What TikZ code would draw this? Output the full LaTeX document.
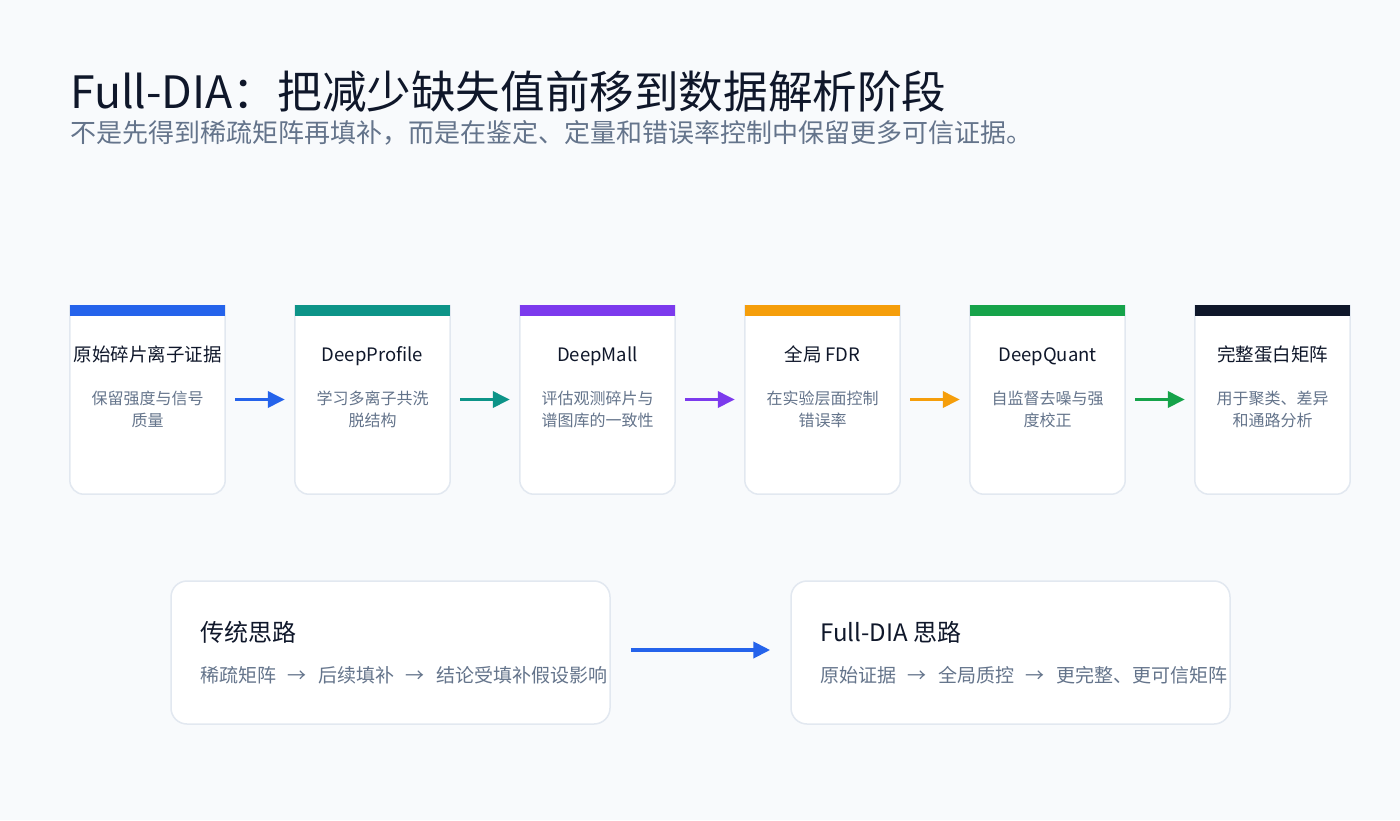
\documentclass[tikz,border=0pt]{standalone}
\usepackage{fontspec}
\setmainfont{Noto Sans CJK SC}
\usetikzlibrary{arrows.meta}
\definecolor{bg}{HTML}{F8FAFC}
\definecolor{ink}{HTML}{0F172A}
\definecolor{muted}{HTML}{64748B}
\definecolor{border}{HTML}{E2E8F0}
\definecolor{cblue}{HTML}{2563EB}
\definecolor{cteal}{HTML}{0D9488}
\definecolor{cpurple}{HTML}{7C3AED}
\definecolor{corange}{HTML}{F59E0B}
\definecolor{cgreen}{HTML}{16A34A}
\definecolor{cdark}{HTML}{0F172A}
\tikzset{
  cardbox/.style={minimum width=155pt, minimum height=189pt, inner sep=0pt, draw=none},
  cardshape/.style={fill=white, draw=border, line width=1.5pt, rounded corners=14pt},
  ctitle/.style={anchor=base, inner sep=0pt, text=ink, font=\fontsize{18.5}{22}\selectfont},
  cdesc/.style={anchor=center, inner sep=0pt, align=center, text=muted, font=\fontsize{16}{22}\selectfont},
  flow/.style={line width=3.5pt, -{Triangle[length=17pt,width=16pt]}, shorten <=10pt, shorten >=10pt},
  bigbox/.style={minimum width=439pt, minimum height=143pt, inner sep=0pt, fill=white, draw=border, line width=1.5pt, rounded corners=16pt},
  btitle/.style={anchor=base west, inner sep=0pt, text=ink, font=\fontsize{24}{28}\selectfont},
  bsub/.style={anchor=base west, inner sep=0pt, text=muted, font=\fontsize{19}{23}\selectfont},
}
\newcommand\mkcard[5]{%
  \node[cardbox] (#1) at (#2,399.5) {};
  \path[cardshape] (#1.north east) -- (#1.south east) -- (#1.south west) -- (#1.north west);
  \fill[#3] (#1.north west) rectangle ([yshift=-11pt]#1.north east);
  \node[ctitle] (#1t) at (#2,361) {#4};
  \node[cdesc] (#1d) at (#2,409) {#5};
}
\newcommand\arw{\makebox[42pt]{→}}
\begin{document}
\begin{tikzpicture}[x=1pt,y=-1pt]
\useasboundingbox (0,0) rectangle (1400,820);
\fill[bg] (0,0) rectangle (1400,820);
\node[anchor=base west, inner sep=0pt, text=ink, font=\fontsize{44.6}{50}\selectfont] (title) at (70,108) {Full-DIA：把减少缺失值前移到数据解析阶段};
\node[anchor=base west, inner sep=0pt, text=muted, font=\fontsize{26}{30}\selectfont] (subtitle) at (70,142.5) {不是先得到稀疏矩阵再填补，而是在鉴定、定量和错误率控制中保留更多可信证据。};
\mkcard{c1}{147.5}{cblue}{原始碎片离子证据}{保留强度与信号\\质量}
\mkcard{c2}{372.5}{cteal}{DeepProfile}{学习多离子共洗\\脱结构}
\mkcard{c3}{597.5}{cpurple}{DeepMall}{评估观测碎片与\\谱图库的一致性}
\mkcard{c4}{822.5}{corange}{全局 FDR}{在实验层面控制\\错误率}
\mkcard{c5}{1047.5}{cgreen}{DeepQuant}{自监督去噪与强\\度校正}
\mkcard{c6}{1272.5}{cdark}{完整蛋白矩阵}{用于聚类、差异\\和通路分析}
\draw[flow, cblue] (c1) -- (c2);
\draw[flow, cteal] (c2) -- (c3);
\draw[flow, cpurple] (c3) -- (c4);
\draw[flow, corange] (c4) -- (c5);
\draw[flow, cgreen] (c5) -- (c6);
\node[bigbox] (b1) at (390.5,652.5) {};
\node[bigbox] (b2) at (1010.5,652.5) {};
\node[btitle] (b1t) at (200,641) {传统思路};
\node[bsub] (b1s) at (200,682) {稀疏矩阵\arw 后续填补\arw 结论受填补假设影响};
\node[btitle] (b2t) at (820,641) {Full-DIA 思路};
\node[bsub] (b2s) at (820,682) {原始证据\arw 全局质控\arw 更完整、更可信矩阵};
\draw[line width=4pt, cblue, -{Triangle[length=17pt,width=16pt]}, shorten <=20pt, shorten >=20pt] ([yshift=2.5pt]b1.east) -- ([yshift=2.5pt]b2.west);
\end{tikzpicture}
\end{document}
